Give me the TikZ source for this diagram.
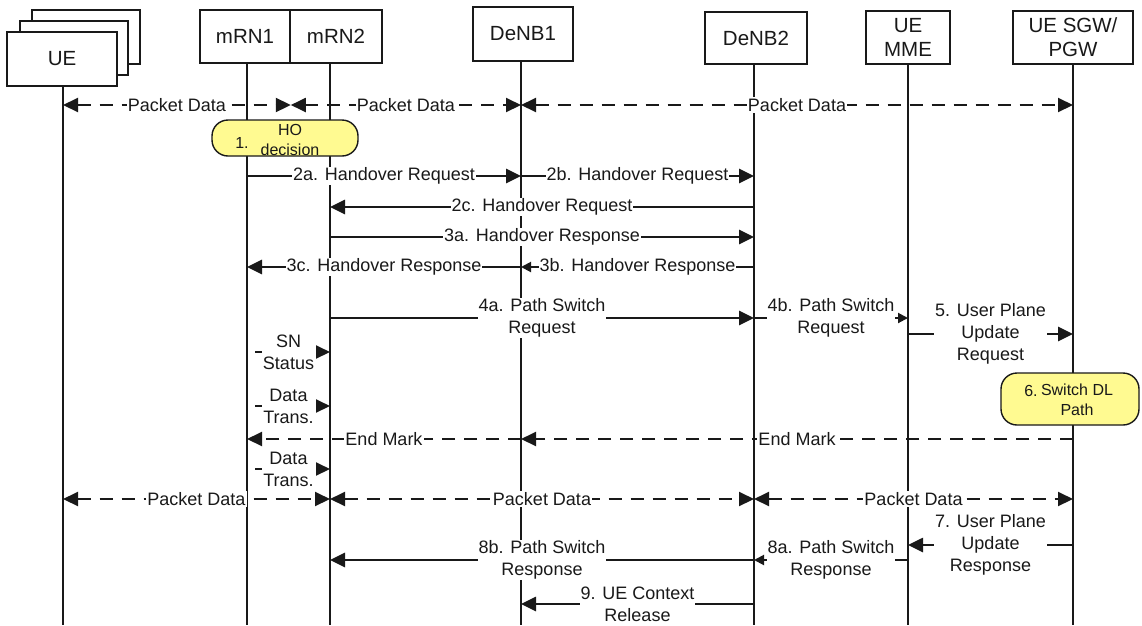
\documentclass[tikz,border=0pt]{standalone}
\usepackage{fontspec}
\setmainfont{Liberation Sans}
\usetikzlibrary{arrows.meta}
\definecolor{ink}{RGB}{25,25,25}
\definecolor{notefill}{RGB}{255,250,145}

\tikzset{
  hdr/.style={draw=ink, line width=1.6pt, fill=white, inner sep=0pt, text=ink,
    align=center, font=\fontsize{20.5}{24}\selectfont},
  life/.style={draw=ink, line width=1.7pt},
  bigtip/.tip={Triangle[length=15pt,width=14pt]},
  smalltip/.tip={Triangle[length=10pt,width=10pt]},
  msg/.style={draw=ink, line width=2.7pt, -bigtip},
  msgs/.style={draw=ink, line width=2pt, -smalltip},
  data/.style={draw=ink, line width=2pt, dash pattern=on 13pt off 9pt, bigtip-bigtip},
  endm/.style={draw=ink, line width=2pt, dash pattern=on 13pt off 9pt, -bigtip},
  fwd/.style={draw=ink, line width=2pt, dash pattern=on 13pt off 9pt, dash phase=14pt,
    -{Triangle[length=14pt,width=13pt]}},
  lbl/.style={fill=white, inner xsep=1pt, inner ysep=1pt, text=ink, align=center,
    font=\fontsize{18}{22}\selectfont},
  note/.style={draw=ink, fill=notefill, line width=1.4pt, rounded corners=16pt},
  notetxt/.style={inner sep=0pt, text=ink, align=center, font=\fontsize{16}{19.5}\selectfont},
}

\begin{document}
\begin{tikzpicture}[x=1pt,y=-1pt]
\useasboundingbox (0,0) rectangle (1142,625);

% participants
\node[hdr, minimum width=108pt, minimum height=54pt] (ueback) at (86,37) {};
\node[hdr, minimum width=108pt, minimum height=54pt] (uemid) at (74,48) {};
\node[hdr, minimum width=110pt, minimum height=54pt] (ue) at (62,59) {UE};
\node[hdr, minimum width=90pt, minimum height=53pt] (mrn1) at (245,36.5) {mRN1};
\node[hdr, minimum width=92pt, minimum height=53pt] (mrn2) at (336,36.5) {mRN2};
\node[hdr, minimum width=100pt, minimum height=54pt] (denb1) at (523,34) {DeNB1};
\node[hdr, minimum width=102pt, minimum height=52pt] (denb2) at (756,38) {DeNB2};
\node[hdr, minimum width=84pt, minimum height=53pt] (mme) at (908,37.5) {UE\\MME};
\node[hdr, minimum width=120pt, minimum height=53pt] (sgw) at (1073,37.5) {UE SGW/\\PGW};

% lifeline heads
\coordinate (lue) at (63,86);
\coordinate (lmrn1) at (247,63);
\coordinate (lmrn2) at (330,63);
\coordinate (ldenb1) at (521,61);
\coordinate (ldenb2) at (754,64);
\coordinate (lmme) at (908,64);
\coordinate (lsgw) at (1073,64);
\coordinate (bot) at (0,625);
\coordinate (split) at (mrn1.south east);

\foreach \l in {lue,lmrn1,lmrn2,ldenb1,ldenb2,lmme,lsgw}
  \draw[life] (\l) -- (\l |- bot);

% message rows
\coordinate (r1) at (0,105);
\coordinate (r2) at (0,176);
\coordinate (r3) at (0,207);
\coordinate (r4) at (0,237);
\coordinate (r5) at (0,267);
\coordinate (r6) at (0,318);
\coordinate (r7) at (0,334);
\coordinate (r8) at (0,352);
\coordinate (r9) at (0,406);
\coordinate (r10) at (0,439);
\coordinate (r11) at (0,469);
\coordinate (r12) at (0,499);
\coordinate (r13) at (0,545);
\coordinate (r14) at (0,560);
\coordinate (r15) at (0,604);

% actions
\node[note, minimum width=146pt, minimum height=36pt] (hodec) at (285,138) {};
\node[notetxt] (hotxt) at (290,140) {HO\\decision};
\node[notetxt] (honum) at (242,143) {1.};
\node[note, minimum width=138pt, minimum height=52pt] (swdl) at (1070,399) {};
\node[notetxt] (swnum) at (1031,391) {6.};
\node[notetxt] (swtxt) at (1077,400) {Switch DL\\Path};

% messages
\draw[data] (lue |- r1) -- (split |- r1) node[lbl,midway] {Packet Data};
\draw[data] (split |- r1) -- (ldenb1 |- r1) node[lbl,midway] {Packet Data};
\draw[data] (ldenb1 |- r1) -- (lsgw |- r1) node[lbl,midway] {Packet Data};

\draw[msg] (lmrn1 |- r2) -- (ldenb1 |- r2) node[lbl,midway] {2a. Handover Request};
\draw[msg] (ldenb1 |- r2) -- (ldenb2 |- r2) node[lbl,midway] {2b. Handover Request};
\draw[msg] (ldenb2 |- r3) -- (lmrn2 |- r3) node[lbl,midway] {2c. Handover Request};
\draw[msg] (lmrn2 |- r4) -- (ldenb2 |- r4) node[lbl,midway] {3a. Handover Response};
\draw[msgs] (ldenb2 |- r5) -- (ldenb1 |- r5) node[lbl,midway] {3b. Handover Response};
\draw[msg] (ldenb1 |- r5) -- (lmrn1 |- r5) node[lbl,midway] {3c. Handover Response};

\draw[msg] (lmrn2 |- r6) -- (ldenb2 |- r6) node[lbl,midway] {4a. Path Switch\\Request};
\draw[msgs] (ldenb2 |- r6) -- (lmme |- r6) node[lbl,midway] {4b. Path Switch\\Request};
\draw[msg] (lmme |- r7) -- (lsgw |- r7) node[lbl,midway] {5. User Plane\\Update\\Request};

\draw[fwd] (lmrn1 |- r8) -- (lmrn2 |- r8) node[lbl,midway] {SN\\Status};
\draw[fwd] (lmrn1 |- r9) -- (lmrn2 |- r9) node[lbl,midway] {Data\\Trans.};
\draw[endm] (lsgw |- r10) -- (ldenb1 |- r10) node[lbl,midway] {End Mark};
\draw[endm] (ldenb1 |- r10) -- (lmrn1 |- r10) node[lbl,midway] {End Mark};
\draw[fwd] (lmrn1 |- r11) -- (lmrn2 |- r11) node[lbl,midway] {Data\\Trans.};

\draw[data] (lue |- r12) -- (lmrn2 |- r12) node[lbl,midway] {Packet Data};
\draw[data] (lmrn2 |- r12) -- (ldenb2 |- r12) node[lbl,midway] {Packet Data};
\draw[data] (ldenb2 |- r12) -- (lsgw |- r12) node[lbl,midway] {Packet Data};

\draw[msg] (lsgw |- r13) -- (lmme |- r13) node[lbl,midway] {7. User Plane\\Update\\Response};
\draw[msgs] (lmme |- r14) -- (ldenb2 |- r14) node[lbl,midway] {8a. Path Switch\\Response};
\draw[msg] (ldenb2 |- r14) -- (lmrn2 |- r14) node[lbl,midway] {8b. Path Switch\\Response};
\draw[msg] (ldenb2 |- r15) -- (ldenb1 |- r15) node[lbl,midway] {9. UE Context\\Release};
\end{tikzpicture}
\end{document}
